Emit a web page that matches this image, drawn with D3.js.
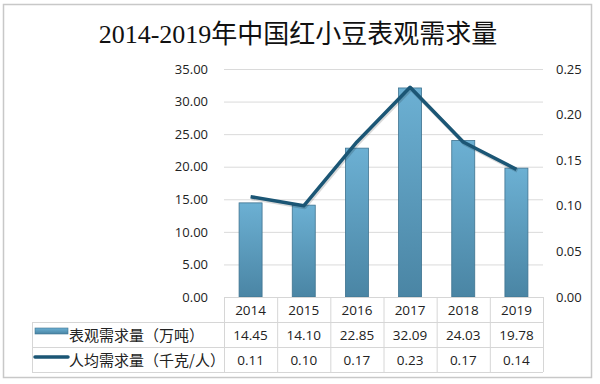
<!DOCTYPE html>
<html>
<head>
<meta charset="utf-8">
<script src="https://cdn.jsdelivr.net/npm/d3@7"></script>
<style>
  body { margin: 0; background: #fff; }
  svg text { font-family: "Open Sans", "Noto Sans", sans-serif; fill: #222; }
</style>
</head>
<body>
<svg id="vis" width="600" height="384"></svg>
<script>
const years = ['2014', '2015', '2016', '2017', '2018', '2019'];
const demand = [14.45, 14.10, 22.85, 32.09, 24.03, 19.78];
const perCapita = [0.11, 0.10, 0.17, 0.23, 0.17, 0.14];
const leftTicks = [0, 5, 10, 15, 20, 25, 30, 35];
const rightTicks = [0, 0.05, 0.10, 0.15, 0.20, 0.25];
const seriesNames = ['表观需求量（万吨）', '人均需求量（千克/人）'];

const svg = d3.select('#vis');
const plot = { left: 224, right: 543, top: 69, bottom: 297 };
const rowH = [297, 322, 347, 372];

const x = d3.scaleBand().domain(years).range([plot.left, plot.right]);
const yL = d3.scaleLinear().domain([0, 35]).range([plot.bottom, plot.top]);
const yR = d3.scaleLinear().domain([0, 0.25]).range([plot.bottom, plot.top]);

const defs = svg.append('defs');
const grad = defs.append('linearGradient').attr('id', 'barGrad')
  .attr('x1', 0).attr('y1', 0).attr('x2', 0).attr('y2', 1);
grad.append('stop').attr('offset', '0%').attr('stop-color', '#6cb0d3');
grad.append('stop').attr('offset', '100%').attr('stop-color', '#4a85a4');

// outer frame
svg.append('rect').attr('x', 3.5).attr('y', 4.5).attr('width', 588).attr('height', 373)
  .attr('fill', '#fff').attr('stroke', '#c8c8c8').attr('stroke-width', 1.5);

// title
svg.append('text').attr('x', 298).attr('y', 43).attr('text-anchor', 'middle')
  .style('font-family', '"Liberation Serif", "Noto Sans CJK SC", serif')
  .style('font-size', '26px').style('fill', '#111')
  .text('2014-2019年中国红小豆表观需求量');

// gridlines
svg.append('g').selectAll('line').data(leftTicks.slice(1)).join('line')
  .attr('x1', plot.left).attr('x2', plot.right)
  .attr('y1', d => yL(d) + 0.5).attr('y2', d => yL(d) + 0.5)
  .attr('stroke', '#dadada').attr('stroke-width', 1);

// left axis
const axL = d3.axisLeft(yL).tickValues(leftTicks).tickFormat(d3.format('.2f')).tickSize(0).tickPadding(0);
svg.append('g').attr('transform', 'translate(208,0)').call(axL)
  .call(g => g.select('.domain').remove())
  .selectAll('text').style('font-size', '13px').style('font-family', '"Open Sans", sans-serif').attr('fill', '#222');

// right axis
const axR = d3.axisRight(yR).tickValues(rightTicks).tickFormat(d3.format('.2f')).tickSize(0).tickPadding(0);
svg.append('g').attr('transform', 'translate(556,0)').call(axR)
  .call(g => g.select('.domain').remove())
  .selectAll('text').style('font-size', '13px').style('font-family', '"Open Sans", sans-serif').attr('fill', '#222');

// bars
const bw = 23;
svg.append('g').selectAll('rect').data(demand).join('rect')
  .attr('x', (d, i) => x(years[i]) + x.bandwidth() / 2 - bw / 2)
  .attr('y', d => yL(d))
  .attr('width', bw)
  .attr('height', d => plot.bottom - yL(d))
  .attr('fill', 'url(#barGrad)')
  .attr('stroke', '#3f7390').attr('stroke-width', 0.8);

// line
const line = d3.line()
  .x((d, i) => x(years[i]) + x.bandwidth() / 2)
  .y(d => yR(d));
svg.append('path').datum(perCapita)
  .attr('d', line).attr('fill', 'none')
  .attr('stroke', 'rgba(0,0,0,0.15)').attr('stroke-width', 4)
  .attr('transform', 'translate(1,1.5)').attr('stroke-linejoin', 'round');
svg.append('path').datum(perCapita)
  .attr('d', line).attr('fill', 'none')
  .attr('stroke', '#1b5675').attr('stroke-width', 3.5)
  .attr('stroke-linejoin', 'round');

// data table
const tbl = svg.append('g').attr('stroke', '#d6d6d6').attr('stroke-width', 1);
tbl.append('line').attr('x1', plot.left).attr('x2', plot.right).attr('y1', rowH[0] + 0.5).attr('y2', rowH[0] + 0.5);
tbl.selectAll('line.h').data(rowH.slice(1)).join('line').classed('h', true)
  .attr('x1', 32).attr('x2', plot.right)
  .attr('y1', d => d + 0.5).attr('y2', d => d + 0.5);
tbl.selectAll('line.v').data(years.concat(['end'])).join('line').classed('v', true)
  .attr('x1', (d, i) => i < years.length ? x(d) + 0.5 : plot.right + 0.5)
  .attr('x2', (d, i) => i < years.length ? x(d) + 0.5 : plot.right + 0.5)
  .attr('y1', rowH[0]).attr('y2', rowH[3]);
tbl.append('line').attr('x1', 32.5).attr('x2', 32.5).attr('y1', rowH[1]).attr('y2', rowH[3]);

const cellText = (arr, row) => svg.append('g').selectAll('text').data(arr).join('text')
  .attr('x', (d, i) => x(years[i]) + x.bandwidth() / 2)
  .attr('y', (rowH[row] + rowH[row + 1]) / 2 + 5)
  .attr('text-anchor', 'middle')
  .style('font-size', '13.5px')
  .text(d => typeof d === 'number' ? d.toFixed(2) : d);
cellText(years, 0);
cellText(demand, 1);
cellText(perCapita, 2);

// legend keys
svg.append('rect').attr('x', 35).attr('y', 328).attr('width', 33).attr('height', 6)
  .attr('fill', 'url(#barGrad)').attr('stroke', '#3f7390').attr('stroke-width', 0.6);
svg.append('line').attr('x1', 35).attr('x2', 68).attr('y1', 357).attr('y2', 357)
  .attr('stroke', '#1b5675').attr('stroke-width', 3.5).attr('stroke-linecap', 'round');
svg.append('g').selectAll('text').data(seriesNames).join('text')
  .attr('x', 69)
  .attr('y', (d, i) => (rowH[i + 1] + rowH[i + 2]) / 2 + 6)
  .style('font-family', '"Noto Sans CJK SC", sans-serif')
  .style('font-size', '15px')
  .text(d => d);
</script>
</body>
</html>
